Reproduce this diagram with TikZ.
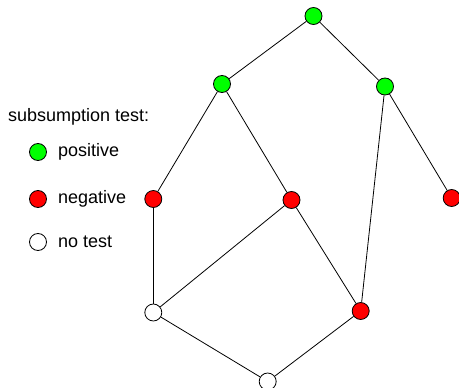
\documentclass[tikz,border=0pt]{standalone}
\usepackage{fontspec}
\setmainfont{Liberation Sans}
\begin{document}
\begin{tikzpicture}[x=1pt,y=-1pt,
  vtx/.style={circle,draw=black,line width=0.8pt,minimum size=17pt,inner sep=0pt},
  posvtx/.style={vtx,fill=green},
  negvtx/.style={vtx,fill=red},
  nonevtx/.style={vtx,fill=white},
  lbl/.style={anchor=west,inner sep=0pt,font=\fontsize{18}{21}\selectfont},
  lnk/.style={draw=black,line width=0.8pt}]
\useasboundingbox (0,0) rectangle (459,388);
% lattice vertices
\node[posvtx]  (top) at (313.5,16) {};
\node[posvtx]  (l1)  at (222,84) {};
\node[posvtx]  (r1)  at (385,86.5) {};
\node[negvtx]  (a)   at (153.3,199) {};
\node[negvtx]  (b)   at (291.5,200) {};
\node[negvtx]  (c)   at (451.7,198) {};
\node[nonevtx] (d)   at (153.3,312.5) {};
\node[negvtx]  (e)   at (360.7,311) {};
\node[nonevtx] (f)   at (267.7,381.5) {};
% lattice edges
\path[lnk] (top) -- (l1);
\path[lnk] (top) -- (r1);
\path[lnk] (l1) -- (a);
\path[lnk] (l1) -- (b);
\path[lnk] (r1) -- (c);
\path[lnk] (r1) -- (e);
\path[lnk] (a) -- (d);
\path[lnk] (b) -- (d);
\path[lnk] (b) -- (e);
\path[lnk] (d) -- (f);
\path[lnk] (e) -- (f);
% legend
\node[lbl] (title) at (8,117) {subsumption test:};
\node[posvtx]  (kpos) at (38,152) {};
\node[lbl]     (tpos) at (58,152) {positive};
\node[negvtx]  (kneg) at (38,199) {};
\node[lbl]     (tneg) at (58,199) {negative};
\node[nonevtx] (knon) at (38,242) {};
\node[lbl]     (tnon) at (58,242) {no test};
\end{tikzpicture}
\end{document}
